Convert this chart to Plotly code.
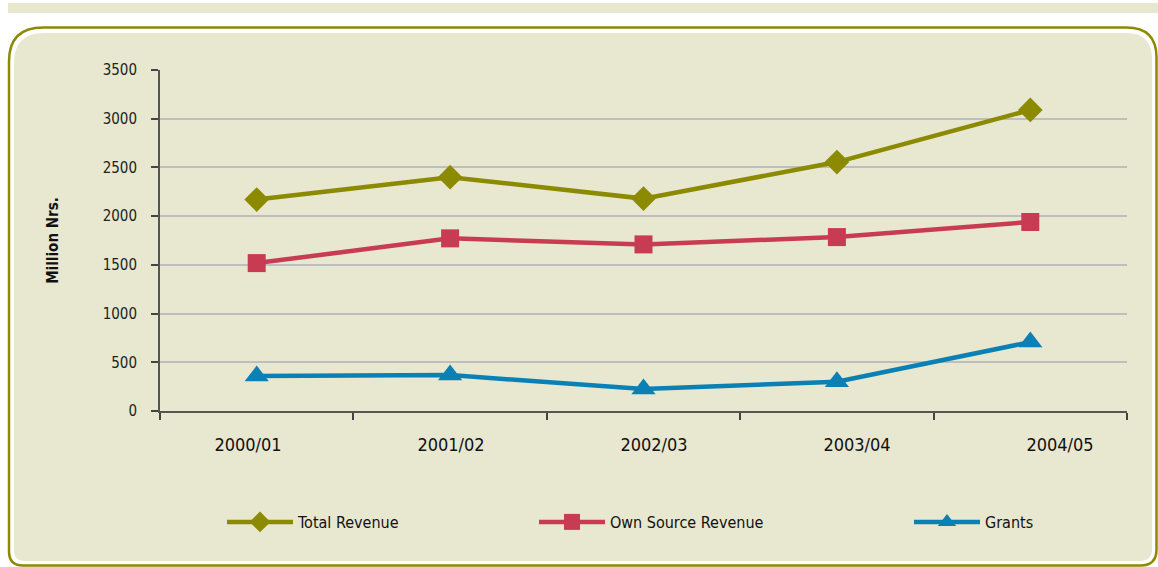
import plotly.graph_objects as go

# ---- data ----
years = ["2000/01", "2001/02", "2002/03", "2003/04", "2004/05"]
total_revenue = [2170, 2400, 2180, 2555, 3090]
own_source_revenue = [1518, 1772, 1710, 1785, 1940]
grants = [358, 369, 225, 300, 707]
y_ticks = [0, 500, 1000, 1500, 2000, 2500, 3000, 3500]

# ---- style ----
OLIVE = "#8C8A00"
RED = "#C83C52"
BLUE = "#0A80B4"
BEIGE = "#E8E7D0"
FONT = "Liberation Sans Narrow, DejaVu Sans Condensed, Arial Narrow, sans-serif"

W, H = 1158, 567
L, R, T, B = 160, 1127, 70, 411  # plot area in px


def px(x):
    return (x - L) / (R - L)


def py(y):
    return (B - y) / (B - T)


def rrect(x0, y0, x1, y1, rtl, rtr, rbr, rbl):
    def P(x, y):
        return f"{px(x):.5f},{py(y):.5f}"
    d = f"M{P(x0 + rtl, y0)} L{P(x1 - rtr, y0)} Q{P(x1, y0)} {P(x1, y0 + rtr)} "
    d += f"L{P(x1, y1 - rbr)} Q{P(x1, y1)} {P(x1 - rbr, y1)} "
    d += f"L{P(x0 + rbl, y1)} Q{P(x0, y1)} {P(x0, y1 - rbl)} "
    d += f"L{P(x0, y0 + rtl)} Q{P(x0, y0)} {P(x0 + rtl, y0)} Z"
    return d


fig = go.Figure()

fig.add_trace(go.Scatter(
    x=years, y=total_revenue, name="Total Revenue", mode="lines+markers",
    line=dict(color=OLIVE, width=4.5),
    marker=dict(symbol="diamond", size=19, color=OLIVE),
    legend="legend"))
fig.add_trace(go.Scatter(
    x=years, y=own_source_revenue, name="Own Source Revenue", mode="lines+markers",
    line=dict(color=RED, width=4.5),
    marker=dict(symbol="square", size=18, color=RED),
    legend="legend2"))
fig.add_trace(go.Scatter(
    x=years, y=grants, name="Grants", mode="lines+markers",
    line=dict(color=BLUE, width=4.5),
    marker=dict(symbol="triangle-up", size=21, color=BLUE),
    legend="legend3"))
# carrier for the category labels axis
fig.add_trace(go.Scatter(
    x=list(range(len(years))), y=[None] * len(years), xaxis="x2",
    showlegend=False, hoverinfo="skip", mode="markers"))

shapes = [
    dict(type="rect", xref="paper", yref="paper", layer="below",
         x0=px(8), x1=px(1158), y0=py(3), y1=py(13),
         fillcolor=BEIGE, line=dict(width=0)),
    dict(type="path", xref="paper", yref="paper", layer="below",
         path=rrect(9, 27.5, 1156.5, 565.5, 34, 30, 16, 14),
         fillcolor="white", line=dict(color=OLIVE, width=2.5)),
    dict(type="path", xref="paper", yref="paper", layer="below",
         path=rrect(14, 33, 1152, 561, 30, 26, 12, 10),
         fillcolor=BEIGE, line=dict(width=0)),
]

legend_common = dict(orientation="h", xanchor="left", yanchor="middle",
                     bgcolor="rgba(0,0,0,0)",
                     font=dict(family=FONT, size=16, color="#111111"),
                     itemwidth=66)

fig.update_layout(
    width=W, height=H,
    margin=dict(l=L, r=W - R, t=T, b=H - B),
    paper_bgcolor="white",
    plot_bgcolor="rgba(0,0,0,0)",
    font=dict(family=FONT, size=16, color="#222222"),
    shapes=shapes,
    xaxis=dict(
        type="category", range=[-0.5, 4.5], tickson="boundaries",
        showticklabels=False, ticks="outside", ticklen=7, tickwidth=1.5,
        tickcolor="#444444", showline=True, linecolor="#555555", linewidth=2,
        showgrid=False, zeroline=False),
    xaxis2=dict(
        overlaying="x", anchor="y", side="bottom",
        range=[-88 / 203, (967 - 88) / 203],
        tickvals=list(range(len(years))), ticktext=years,
        ticks="", showline=False, showgrid=False, zeroline=False,
        ticklabelstandoff=21,
        tickfont=dict(family=FONT, size=18, color="#111111")),
    yaxis=dict(
        range=[0, 3500], tickvals=y_ticks, ticks="outside", ticklen=7,
        tickwidth=1.5, tickcolor="#444444",
        showline=True, linecolor="#555555", linewidth=2,
        showgrid=True, gridcolor="#BEBEC0", gridwidth=1.5,
        zeroline=False, ticklabelstandoff=11,
        tickfont=dict(family=FONT, size=15, color="#222222"),
        title=dict(text="<b>Million Nrs.</b>", standoff=40,
                   font=dict(family=FONT, size=15, color="#111111"))),
    legend=dict(x=px(222), y=py(522), **legend_common),
    legend2=dict(x=px(534), y=py(522), **legend_common),
    legend3=dict(x=px(909), y=py(522), **legend_common),
    hovermode=False,
)

fig.write_html(
    "out.html",
    config={"displayModeBar": False},
    post_script="document.body.style.margin='0';document.body.style.overflow='hidden';",
)
